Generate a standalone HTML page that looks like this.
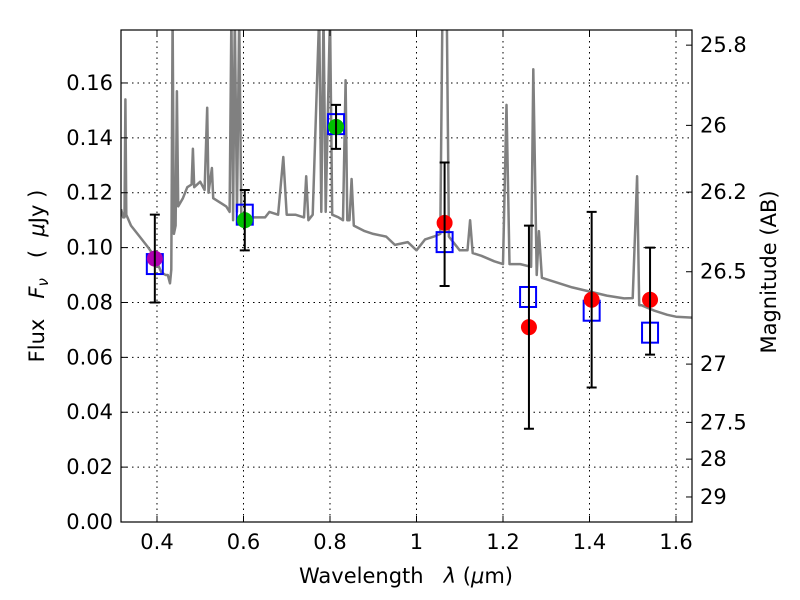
<!DOCTYPE html>
<html><head><meta charset="utf-8"><style>
body{margin:0;background:#fff}
svg{display:block;font-family:"DejaVu Sans","Liberation Sans",sans-serif}
</style></head><body>
<svg id="chart" width="800" height="600">
<defs><clipPath id="clip"><rect x="121" y="30" width="571" height="492"/></clipPath></defs>
<g id="grid"></g>
<g id="spec" clip-path="url(#clip)"></g>
<g id="marks"></g>
<rect x="121" y="30" width="571" height="492" fill="none" stroke="#000" stroke-width="1.2"/>
<g id="axes"></g>
<text x="406" y="583" font-size="21" text-anchor="middle" xml:space="preserve">Wavelength   <tspan font-style="italic">λ</tspan> (<tspan font-style="italic">μ</tspan>m)</text>
<text transform="translate(44,276) rotate(-90)" font-size="21" text-anchor="middle" xml:space="preserve">Flux   <tspan font-style="italic">F<tspan font-size="15" dy="4">ν</tspan></tspan><tspan dy="-4">   (  </tspan><tspan font-style="italic">μ</tspan>Jy )</text>
<text transform="translate(776,272) rotate(-90)" font-size="21" text-anchor="middle">Magnitude (AB)</text>
</svg>
<script>
const specLam=[0.317,0.322,0.325,0.327,0.329,0.34,0.36,0.38,0.395,0.41,0.42,0.425,0.43,0.433,0.436,0.439,0.443,0.446,0.449,0.46,0.47,0.48,0.483,0.486,0.50,0.51,0.516,0.519,0.527,0.53,0.55,0.56,0.568,0.572,0.576,0.58,0.585,0.59,0.595,0.61,0.63,0.65,0.66,0.68,0.692,0.70,0.72,0.74,0.745,0.75,0.76,0.775,0.78,0.785,0.79,0.80,0.805,0.82,0.83,0.836,0.84,0.845,0.85,0.855,0.88,0.90,0.93,0.95,0.98,1.00,1.02,1.04,1.055,1.06,1.07,1.075,1.10,1.118,1.124,1.13,1.15,1.18,1.20,1.208,1.215,1.24,1.265,1.27,1.278,1.283,1.29,1.32,1.36,1.40,1.44,1.48,1.50,1.51,1.515,1.52,1.55,1.58,1.60,1.637];
const specFlux=[0.114,0.111,0.111,0.154,0.112,0.108,0.104,0.100,0.0966,0.091,0.090,0.090,0.087,0.092,0.185,0.105,0.108,0.157,0.115,0.118,0.122,0.123,0.136,0.122,0.124,0.121,0.151,0.120,0.129,0.118,0.116,0.115,0.113,0.185,0.110,0.185,0.113,0.185,0.112,0.111,0.111,0.111,0.113,0.112,0.133,0.112,0.112,0.111,0.126,0.110,0.112,0.185,0.113,0.185,0.113,0.185,0.112,0.111,0.110,0.161,0.110,0.110,0.125,0.108,0.106,0.105,0.104,0.101,0.102,0.099,0.103,0.104,0.105,0.185,0.185,0.104,0.099,0.099,0.110,0.098,0.097,0.095,0.094,0.152,0.094,0.094,0.093,0.165,0.090,0.106,0.089,0.0875,0.0855,0.084,0.0825,0.0815,0.0816,0.126,0.079,0.079,0.077,0.0755,0.0748,0.0745];
const photLam=[0.395,0.603,0.814,1.065,1.26,1.405,1.54];
const photFlux=[0.096,0.110,0.144,0.109,0.071,0.081,0.081];
const photLo=[0.080,0.099,0.136,0.086,0.034,0.049,0.061];
const photHi=[0.112,0.121,0.152,0.131,0.108,0.113,0.100];
const photColor=["#b000b0","#00c000","#00c000","#ff0000","#ff0000","#ff0000","#ff0000"];
const modelLam=[0.395,0.603,0.814,1.065,1.258,1.405,1.54];
const modelFlux=[0.094,0.112,0.145,0.102,0.082,0.077,0.069];
const xTicks=[0.4,0.6,0.8,1.0,1.2,1.4,1.6];
const xTickLabels=["0.4","0.6","0.8","1","1.2","1.4","1.6"];
const yTicks=[0,0.02,0.04,0.06,0.08,0.10,0.12,0.14,0.16];
const yTickLabels=["0.00","0.02","0.04","0.06","0.08","0.10","0.12","0.14","0.16"];
const magTicks=[25.8,26,26.2,26.5,27,27.5,28,29];
const magTickLabels=["25.8","26","26.2","26.5","27","27.5","28","29"];

const NS="http://www.w3.org/2000/svg";
const X=l=>121+(l-0.3168)/(1.637-0.3168)*571;
const Y=f=>522-f/0.1793*492;
const magToFlux=m=>Math.pow(10,(23.9-m)/2.5);
function mk(parent,tag,attrs){const e=document.createElementNS(NS,tag);for(const k in attrs)e.setAttribute(k,attrs[k]);document.getElementById(parent).appendChild(e);return e;}

xTicks.forEach((t,i)=>{
  const x=X(t);
  const g=mk('grid','line',{x1:x,x2:x,y1:30,y2:522,stroke:'#000','stroke-width':1,'stroke-dasharray':'1.5,4'});
  
  
  mk('axes','line',{x1:x,x2:x,y1:522,y2:516,stroke:'#000'});
  mk('axes','line',{x1:x,x2:x,y1:30,y2:36,stroke:'#000'});
  const tx=mk('axes','text',{x:x,y:549,'font-size':21,'text-anchor':'middle'});
  tx.textContent=xTickLabels[i];
  
  
});
yTicks.forEach((t,i)=>{
  const y=Y(t);
  const g=mk('grid','line',{x1:121,x2:692,y1:y,y2:y,stroke:'#000','stroke-width':1,'stroke-dasharray':'1.5,4'});
  
  
  mk('axes','line',{x1:121,x2:127,y1:y,y2:y,stroke:'#000'});
  const tx=mk('axes','text',{x:113,y:y+7,'font-size':21,'text-anchor':'end'});
  tx.textContent=yTickLabels[i];
  
  
});
magTicks.forEach((m,i)=>{
  const y=Y(magToFlux(m));
  mk('axes','line',{x1:692,x2:686,y1:y,y2:y,stroke:'#000'});
  const tx=mk('axes','text',{x:700,y:y+7,'font-size':21});
  tx.textContent=magTickLabels[i];
  
  
});
const pts=specLam.map((l,i)=>X(l).toFixed(1)+','+Y(specFlux[i]).toFixed(1)).join(' ');
const sp=mk('spec','polyline',{points:pts,fill:'none',stroke:'#808080','stroke-width':2.5,'stroke-linejoin':'round'});


modelLam.forEach((l,i)=>{
  const r=mk('marks','rect',{x:X(l)-8,y:Y(modelFlux[i])-10,width:16,height:20,fill:'none',stroke:'#0000ff','stroke-width':2});
  
  
});
photLam.forEach((l,i)=>{
  const x=X(l);
  const c=mk('marks','circle',{cx:x,cy:Y(photFlux[i]),r:8,fill:photColor[i]});
  
  
  const e=mk('marks','path',{d:`M${x},${Y(photLo[i])}V${Y(photHi[i])}M${x-5},${Y(photLo[i])}H${x+5}M${x-5},${Y(photHi[i])}H${x+5}`,stroke:'#000','stroke-width':2,fill:'none'});
  
  
});
</script>
</body></html>
